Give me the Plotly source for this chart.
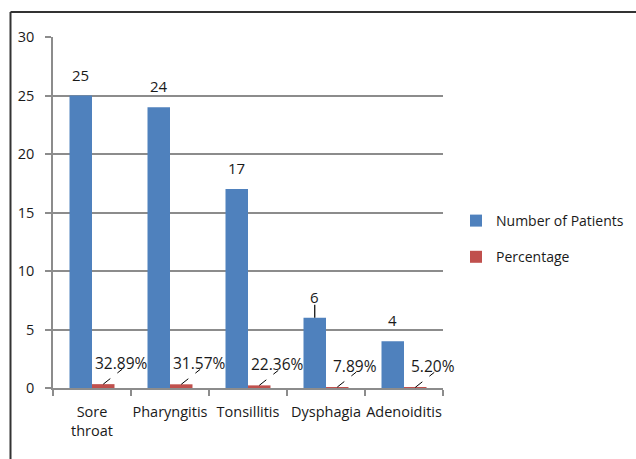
import plotly.graph_objects as go

# Symptom counts and their share of the cohort
categories = ["Sore<br>throat", "Pharyngitis", "Tonsillitis", "Dysphagia", "Adenoiditis"]
patients = [25, 24, 17, 6, 4]
percentages = [32.89, 31.57, 22.36, 7.89, 5.20]
y_ticks = [0, 5, 10, 15, 20, 25, 30]

BLUE = "#4F81BD"
RED = "#C0504D"
GRID = "#8c8c8c"
TEXT = "#1a1a1a"
FONT = "Open Sans"

W, H = 636, 459
L, R, T, B = 53, 193, 37, 71
PW, PH = W - L - R, H - T - B

# Percent series is drawn as a fraction, so its bars sit near the baseline
pct_frac = [p / 100 for p in percentages]

fig = go.Figure()
fig.add_trace(go.Bar(x=categories, y=patients, name="Number of Patients",
                     marker=dict(color=BLUE, line=dict(width=0)),
                     legendgroup="a"))
fig.add_trace(go.Bar(x=categories, y=pct_frac, name="Percentage",
                     marker=dict(color=RED, line=dict(width=0)),
                     legendgroup="b"))

half = PW / len(categories) * (1 - 0.423) / 4  # centre offset of each bar in a group

annotations = []
shapes = []
for i, v in enumerate(patients):
    annotations.append(dict(x=i, y=v, xref="x", yref="y", text=str(v),
                            showarrow=False, xshift=-half, yshift=21,
                            yanchor="middle",
                            font=dict(family=FONT, size=15, color=TEXT)))
    if v == 6:
        shapes.append(dict(type="line", xref="x", yref="y",
                           xsizemode="pixel", ysizemode="pixel",
                           xanchor=i, yanchor=v,
                           x0=-half, x1=-half, y0=0, y1=13,
                           line=dict(color="black", width=1.2)))

for i, (p, f) in enumerate(zip(percentages, pct_frac)):
    annotations.append(dict(x=i, y=f, xref="x", yref="y", text=f"{p:.2f}%",
                            showarrow=False, xshift=half + 18, yshift=21,
                            yanchor="middle",
                            font=dict(family=FONT, size=15.5, color=TEXT)))
    shapes.append(dict(type="line", xref="x", yref="y",
                       xsizemode="pixel", ysizemode="pixel",
                       xanchor=i, yanchor=f,
                       x0=half, x1=half + 19, y0=0, y1=15,
                       line=dict(color="black", width=1, dash="dash")))

# Outer frame: left and top edges of the chart box
xl = (10.5 - L) / PW
yt = (H - 12 - B) / PH
shapes.append(dict(type="line", xref="paper", yref="paper",
                   x0=xl, x1=xl, y0=-B / PH - 0.05, y1=yt,
                   line=dict(color="#333333", width=2)))
shapes.append(dict(type="line", xref="paper", yref="paper",
                   x0=xl, x1=(W - L) / PW + 0.05, y0=yt, y1=yt,
                   line=dict(color="#333333", width=2)))

fig.update_layout(
    width=W, height=H,
    margin=dict(l=L, r=R, t=T, b=B, pad=0, autoexpand=False),
    paper_bgcolor="white", plot_bgcolor="white",
    barmode="group", bargap=0.423, bargroupgap=0,
    font=dict(family=FONT, size=14, color=TEXT),
    showlegend=True,
    legend=dict(x=(456 - L) / PW, y=(388 - 205) / PH, xanchor="left", yanchor="top",
                font=dict(family=FONT, size=14, color=TEXT),
                tracegroupgap=15, itemwidth=30, bgcolor="rgba(0,0,0,0)"),
    annotations=annotations,
    shapes=shapes,
)
fig.update_xaxes(type="category", range=[-0.5, len(categories) - 0.5],
                 showgrid=False, showline=True,
                 linecolor=GRID, linewidth=1.5,
                 ticks="outside", tickson="boundaries", ticklen=6,
                 tickcolor=GRID, tickwidth=1.5, tickangle=0, automargin=False,
                 tickfont=dict(family=FONT, size=14.5, color=TEXT),
                 ticklabelstandoff=10, fixedrange=True)
fig.update_yaxes(range=[0, 30], tickvals=y_ticks, showgrid=True,
                 gridcolor=GRID, gridwidth=1.5, zeroline=False,
                 showline=True, linecolor=GRID, linewidth=1.5, automargin=False,
                 ticks="outside", ticklen=6, tickcolor=GRID, tickwidth=1.5,
                 tickfont=dict(family=FONT, size=14.5, color=TEXT),
                 ticklabelstandoff=8, fixedrange=True)

fig.write_html("out.html", config={"displayModeBar": False})
